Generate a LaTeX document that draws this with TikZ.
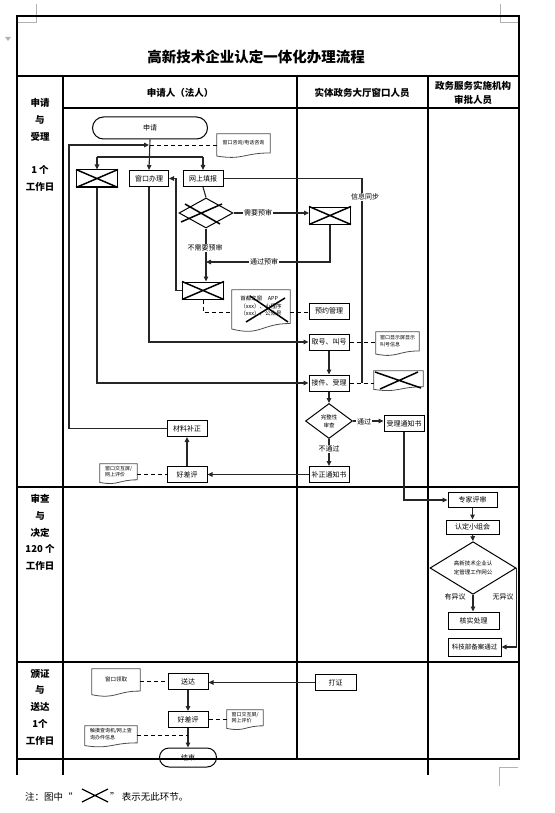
\documentclass[tikz,border=0pt]{standalone}
\usepackage{fontspec}
\setmainfont{Noto Sans CJK SC}
\usetikzlibrary{arrows.meta,calc,shapes.geometric}
\tikzset{
  tl/.style={line width=1.2pt, black},
  box/.style={draw, line width=1pt, fill=white, minimum width=40, minimum height=16, inner sep=0pt, font=\fontsize{7}{8}\selectfont},
  xbox/.style={draw, line width=1pt, minimum width=41, minimum height=17, inner sep=0pt},
  term/.style={draw, line width=1pt, inner sep=0pt, font=\fontsize{7}{8}\selectfont},
  dia/.style={draw, diamond, line width=1pt, inner sep=0pt, align=center},
  cn/.style={line width=1.1pt, black!85},
  arr/.style={cn, -{Triangle[length=5pt,width=4.5pt]}},
  dsh/.style={line width=0.9pt, dash pattern=on 4pt off 3pt, black},
  docn/.style={inner xsep=1pt, inner ysep=0pt, align=left, font=\fontsize{5}{6.5}\selectfont},
  docl/.style={line width=0.8pt, black!70},
  xl/.style={line width=1.5pt, black},
  lbl/.style={fill=white, inner sep=1pt, font=\fontsize{7}{8}\selectfont},
  sec/.style={align=center, font=\bfseries\fontsize{9.5}{16.8}\selectfont},
  hd/.style={align=center, font=\bfseries\fontsize{9.5}{14}\selectfont},
  mk/.style={line width=0.7pt, gray!60}
}
\newcommand\mydoc[1]{%
  \draw[docl] ($(#1.north west)!1.21!(#1.south west)$) -- (#1.north west) -- (#1.north east)
    -- ($(#1.north east)!1.04!(#1.south east)$)
    .. controls ($(#1.north)!1.04!(#1.south)$) and ($(#1.north)!1.44!(#1.south)$)
    .. ($(#1.north west)!1.21!(#1.south west)$) -- cycle;}
\newcommand\xcross[1]{\draw[xl] (#1.north west) -- (#1.south east) (#1.south west) -- (#1.north east);}
\begin{document}
\begin{tikzpicture}[x=1pt,y=-1pt]
\useasboundingbox (0,0) rectangle (554,813);
% page marks
\draw[mk] (36,4) -- (36,22) -- (17,22);
\draw[mk] (500,4) -- (500,22) -- (519,22);
\draw[mk] (518,767) -- (499,767) -- (499,786);
\fill[gray!60] (5,37) -- (11,37) -- (8,41) -- cycle;
% table
\draw[tl] (17,16) rectangle (519,759);
\draw[tl] (17,76) -- (519,76);
\draw[tl] (63,108) -- (519,108);
\draw[tl] (63,76) -- (63,775);
\draw[tl] (297,76) -- (297,759);
\draw[tl] (428,76) -- (428,775);
\draw[tl] (17,759) -- (17,775);
\draw[tl] (17,487) -- (519,487);
\draw[tl] (17,662) -- (519,662);
\node[font=\bfseries\fontsize{14.5}{16}\selectfont] (title) at (256,57) {高新技术企业认定一体化办理流程};
\node[hd] (h1) at (180,93) {申请人（法人）};
\node[hd] (h2) at (362,93) {实体政务大厅窗口人员};
\node[hd] (h3) at (473,93) {政务服务实施机构\\审批人员};
\node[sec] (s1) at (40,145) {申请\\与\\受理\\[16.8pt]1 个\\工作日};
\node[sec] (s2) at (40,532.5) {审查\\与\\决定\\120 个\\工作日};
\node[sec] (s3) at (40,707) {颁证\\与\\送达\\1个\\工作日};

% ---- section 1 nodes
\node[term, rounded corners=11pt, minimum width=115, minimum height=22] (start) at (150,128) {申请};
\node[docn, minimum width=53, minimum height=18] (zx) at (243.5,143) {窗口咨询/电话咨询};
\mydoc{zx}
\node[xbox] (x1) at (97,178.5) {}; \xcross{x1}
\node[box, minimum width=39] (ck) at (149,178.5) {窗口办理};
\node[box] (ol) at (203,178.5) {网上填报};
\node[dia, minimum width=54, minimum height=30] (dx) at (206,213) {};
\draw[xl] (185,204) -- (220,224) (181,222) -- (222,204);
\node[xbox] (x2) at (330,215.5) {}; \xcross{x2}
\node[xbox] (x3) at (203,290.5) {}; \xcross{x3}
\node[docn, minimum width=58, minimum height=32, font=\fontsize{5.5}{7.5}\selectfont] (sdc) at (261,306) {首都之窗\quad APP\\（xxx）、小程序\\（xxx）、公众号};
\mydoc{sdc}
\draw[xl] (250,296) -- (288,322) (246,322) -- (285,298);
\node[box] (yy) at (329,311) {预约管理};
\node[box] (qh) at (329,342) {取号、叫号};
\node[docn, minimum width=43, minimum height=18] (xs) at (397.5,341) {窗口显示屏显示\\叫号信息};
\mydoc{xs}
\node[docn, minimum width=49, minimum height=15] (x4) at (398.5,378.5) {};
\mydoc{x4}
\draw[xl] (375,372) -- (421,388) (380,389) -- (418,372);
\node[box] (ac) at (329,383) {接件、受理};
\node[dia, minimum width=47, minimum height=35, font=\fontsize{5.5}{8}\selectfont] (dq) at (329,421) {完整性\\审查};
\node[box] (slz) at (404,423.5) {受理通知书};
\node[box] (bz) at (329,474.5) {补正通知书};
\node[box] (hp) at (187,474.5) {好差评};
\node[box] (cl) at (187,428.5) {材料补正};
\node[docn, minimum width=37, minimum height=15] (pj) at (118.5,471.5) {窗口交互屏/\\网上评价};
\mydoc{pj}

% ---- section 1 connectors
\coordinate (j1) at (149,145);
\coordinate (br) at (149,157);
\coordinate (sync) at (362,383);
\draw[arr] (start.south) -- (ck.north);
\draw[cn] (x1.north |- br) -- (ol.north |- br);
\draw[arr] (x1.north |- br) -- (x1.north);
\draw[arr] (ol.north |- br) -- (ol.north);
\draw[arr] (cl.west) -| (69,145) -- (j1);
\draw[dsh] (zx.west |- j1) -- (j1);
\draw[cn] (ol.east) -| (sync);
\node[lbl] (lsync) at (365,197) {信息同步};
\draw[cn] (ol.south) -- (dx.north);
\draw[arr] (dx.east) -- (dx.east -| x2.west);
\node[lbl] (lneed) at (258,213) {需要预审};
\draw[arr] (x2.south) |- (206,262);
\node[lbl] (lpass) at (264,262) {通过预审};
\draw[arr] (dx.south) -- (dx.south |- x3.north);
\node[lbl] (lnoneed) at (205,248) {不需要预审};
\draw[arr] (x3.west) -| (176,178.5) -- (ck.east);
\draw[dsh] (x3.south) |- (sdc.west |- 0,312);
\draw[dsh] (sdc.east |- 0,312) -- (yy.west |- 0,312);
\draw[arr] (ck.south) |- (qh.west);
\draw[dsh] (qh.east) -- (qh.east -| xs.west);
\draw[arr] (qh.south) -- (ac.north);
\draw[arr] (x1.south) |- (ac.west);
\draw[dsh] (ac.east) -- (ac.east -| x4.west);
\draw[arr] (ac.south) -- (dq.north);
\draw[arr] (dq.east) -- (dq.east -| slz.west);
\node[lbl] (lok) at (364,422) {通过};
\draw[arr] (dq.south) -- (bz.north);
\node[lbl] (lnok) at (329,449) {不通过};
\draw[arr] (bz.west) -- (hp.east);
\draw[arr] (hp.north) -- (cl.south);
\draw[dsh] (pj.east |- hp.west) -- (hp.west);

% ---- section 2
\node[box, minimum width=49, minimum height=15] (zj) at (472.5,500) {专家评审};
\node[box, minimum width=53, minimum height=14] (rd) at (472.5,527) {认定小组会};
\node[dia, minimum width=86, minimum height=45, font=\fontsize{5.5}{9}\selectfont] (gs) at (473,568) {高新技术企业认\\定管理工作网公};
\node[box, minimum width=51, minimum height=17] (hs) at (473.5,620.5) {核实处理};
\node[box, minimum width=53, minimum height=18, font=\fontsize{6.5}{8}\selectfont] (ba) at (474.5,647) {科技部备案通过};
\draw[arr] (slz.south) |- (zj.west);
\draw[arr] (zj.south) -- (rd.north);
\draw[arr] (rd.south) -- (gs.north);
\draw[arr] (gs.south) -- (gs.south |- hs.north);
\node[font=\fontsize{7}{8}\selectfont] (lyes) at (455,597) {有异议};
\draw[arr] (gs.east) |- (ba.east);
\node[font=\fontsize{7}{8}\selectfont] (lno) at (503,597) {无异议};

% ---- section 3
\node[docn, minimum width=48, minimum height=21, font=\fontsize{5.5}{7}\selectfont] (lq) at (116,679.5) {窗口领取};
\mydoc{lq}
\node[box] (song) at (188,681.5) {送达};
\node[box, minimum width=41] (dz) at (335.5,682.5) {打证};
\node[box] (hp2) at (188,719.5) {好差评};
\node[docn, minimum width=36, minimum height=15] (pj2) at (245,717.5) {窗口交互屏/\\网上评价};
\mydoc{pj2}
\node[docn, minimum width=52, minimum height=16] (cx) at (111,734) {触摸查询机/网上查\\询办件信息};
\mydoc{cx}
\node[term, rounded corners=9.5pt, minimum width=57, minimum height=19] (js) at (188,757.5) {结束};
\draw[dsh] (lq.east |- song.west) -- (song.west);
\draw[arr] (dz.west) -- (dz.west -| song.east);
\draw[arr] (song.south) -- (hp2.north);
\draw[dsh] (hp2.east) -- (hp2.east -| pj2.west);
\draw[arr] (hp2.south) -- (js.north);
\draw[dsh] (cx.east |- 0,735) -- (188,735);

% ---- note
\node[anchor=west, inner sep=0pt, font=\fontsize{9.5}{11}\selectfont] (n1) at (25,797) {注：图中“};
\draw[xl, line width=1.2pt] (82,789) -- (108,802) (82,802) -- (108,789);
\node[anchor=west, inner sep=0pt, font=\fontsize{9.5}{11}\selectfont] (n2) at (110,797) {” 表示无此环节。};
\end{tikzpicture}
\end{document}
